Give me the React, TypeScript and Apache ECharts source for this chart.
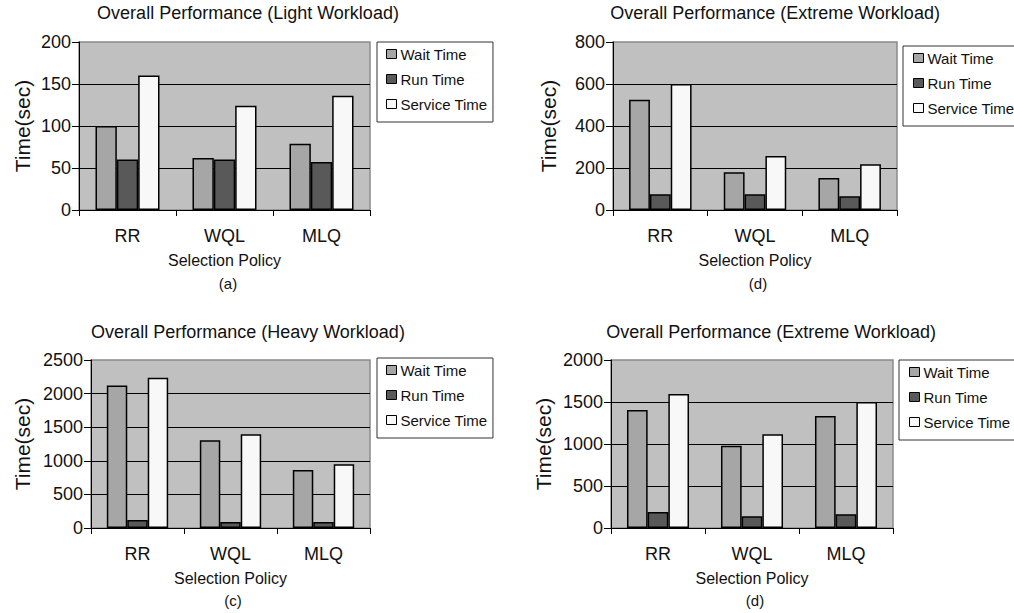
import React, { useEffect, useRef } from "react";
import * as echarts from "echarts";

// Selection policies on the x axis
const CATEGORIES = ["RR", "WQL", "MLQ"];
const SERIES_NAMES = ["Wait Time", "Run Time", "Service Time"];

// (a) Light workload, seconds
const LIGHT_WAIT = [100, 62, 79];
const LIGHT_RUN = [60, 60, 57];
const LIGHT_SERVICE = [160, 124, 136];

// (d) Extreme workload, first run, seconds
const EXTREME1_WAIT = [525, 180, 152];
const EXTREME1_RUN = [75, 75, 65];
const EXTREME1_SERVICE = [600, 257, 218];

// (c) Heavy workload, seconds
const HEAVY_WAIT = [2120, 1305, 863];
const HEAVY_RUN = [120, 90, 90];
const HEAVY_SERVICE = [2235, 1395, 948];

// (d) Extreme workload, second run, seconds
const EXTREME2_WAIT = [1405, 978, 1333];
const EXTREME2_RUN = [190, 140, 165];
const EXTREME2_SERVICE = [1595, 1115, 1500];

const FONT = '"Liberation Sans", Arial, Helvetica, sans-serif';
const INK = "#111";
const BAR_COLORS = ["#a6a6a6", "#595959", "#f8f8f8"];

type Panel = {
  title: string;
  caption: string;
  titlePos: [number, number];
  captionPos: [number, number];
  grid: { left: number; top: number; width: number; height: number };
  max: number;
  interval: number;
  yNameGap: number;
  legend: { left: number; top: number; padding: number[] };
  values: number[][];
};

const PANELS: Panel[] = [
  {
    title: "Overall Performance (Light Workload)",
    caption: "(a)",
    titlePos: [248, 13],
    captionPos: [228, 283],
    grid: { left: 79, top: 42, width: 291, height: 168 },
    max: 200,
    interval: 50,
    yNameGap: 46,
    legend: { left: 377, top: 42, padding: [4.5, 5.5, 10.5, 9] },
    values: [LIGHT_WAIT, LIGHT_RUN, LIGHT_SERVICE],
  },
  {
    title: "Overall Performance (Extreme Workload)",
    caption: "(d)",
    titlePos: [775, 13],
    captionPos: [758, 283],
    grid: { left: 613, top: 42, width: 284, height: 168 },
    max: 800,
    interval: 200,
    yNameGap: 54,
    legend: { left: 903, top: 46, padding: [4.5, 20, 10.5, 10] },
    values: [EXTREME1_WAIT, EXTREME1_RUN, EXTREME1_SERVICE],
  },
  {
    title: "Overall Performance (Heavy Workload)",
    caption: "(c)",
    titlePos: [248, 332],
    captionPos: [233, 600],
    grid: { left: 91, top: 360, width: 279, height: 168 },
    max: 2500,
    interval: 500,
    yNameGap: 58,
    legend: { left: 377, top: 358, padding: [4.5, 5.5, 10.5, 9] },
    values: [HEAVY_WAIT, HEAVY_RUN, HEAVY_SERVICE],
  },
  {
    title: "Overall Performance (Extreme Workload)",
    caption: "(d)",
    titlePos: [771, 332],
    captionPos: [755, 600],
    grid: { left: 611, top: 360, width: 282, height: 168 },
    max: 2000,
    interval: 500,
    yNameGap: 57,
    legend: { left: 899, top: 360, padding: [4.5, 20, 10.5, 10] },
    values: [EXTREME2_WAIT, EXTREME2_RUN, EXTREME2_SERVICE],
  },
];

function buildOption(): echarts.EChartsOption {
  const grid = PANELS.map((p) => ({
    ...p.grid,
    show: true,
    backgroundColor: "#c0c0c0",
    borderColor: "#8a8a8a",
    borderWidth: 1.5,
    containLabel: false,
  }));

  const xAxis = PANELS.map((_, i) => ({
    type: "category" as const,
    gridIndex: i,
    data: CATEGORIES,
    name: "Selection Policy",
    nameLocation: "middle" as const,
    nameGap: 42,
    nameTextStyle: { fontFamily: FONT, fontSize: 16, color: INK },
    axisLine: { show: true, lineStyle: { color: "#000", width: 1 } },
    axisTick: { show: true, length: 6, lineStyle: { color: "#000" } },
    axisLabel: { fontFamily: FONT, fontSize: 18, color: INK, margin: 17 },
    splitLine: { show: false },
  }));

  const yAxis = PANELS.map((p, i) => ({
    type: "value" as const,
    gridIndex: i,
    min: 0,
    max: p.max,
    interval: p.interval,
    name: "Time(sec)",
    nameLocation: "middle" as const,
    nameRotate: 90,
    nameGap: p.yNameGap,
    nameTextStyle: { fontFamily: FONT, fontSize: 21, color: INK },
    axisLine: { show: true, lineStyle: { color: "#000", width: 1 } },
    axisTick: { show: true, length: 7, lineStyle: { color: "#000" } },
    axisLabel: {
      fontFamily: FONT,
      fontSize: 18,
      color: INK,
      margin: 8,
      formatter: (v: number) => String(v),
    },
    splitLine: {
      show: true,
      showMaxLine: false,
      lineStyle: { color: "#000", width: 1 },
    },
  }));

  const series: any[] = [];
  PANELS.forEach((p, i) => {
    p.values.forEach((vals, k) => {
      series.push({
        type: "bar",
        name: SERIES_NAMES[k],
        xAxisIndex: i,
        yAxisIndex: i,
        data: vals,
        barGap: "0%",
        barCategoryGap: "34%",
        itemStyle: {
          color: BAR_COLORS[k],
          borderColor: "#000",
          borderWidth: 1.5,
        },
      });
    });
  });

  const legend = PANELS.map((p) => ({
    data: SERIES_NAMES,
    orient: "vertical" as const,
    left: p.legend.left,
    top: p.legend.top,
    padding: p.legend.padding,
    itemGap: 10,
    itemWidth: 10,
    itemHeight: 9,
    icon: "rect",
    backgroundColor: "#fff",
    borderColor: "#333",
    borderWidth: 1,
    itemStyle: { borderColor: "#000", borderWidth: 1 },
    textStyle: { fontFamily: FONT, fontSize: 15, color: INK, padding: [0, 0, 0, -1] },
    selectedMode: false,
  }));

  const graphic: any[] = [];
  PANELS.forEach((p) => {
    graphic.push({
      type: "text",
      x: p.titlePos[0],
      y: p.titlePos[1],
      style: {
        text: p.title,
        fontFamily: FONT,
        fontSize: 18,
        fill: INK,
        align: "center",
        verticalAlign: "middle",
      },
    });
    graphic.push({
      type: "text",
      x: p.captionPos[0],
      y: p.captionPos[1],
      style: {
        text: p.caption,
        fontFamily: FONT,
        fontSize: 15,
        fill: INK,
        align: "center",
        verticalAlign: "middle",
      },
    });
  });

  return {
    animation: false,
    backgroundColor: "#fff",
    grid,
    xAxis,
    yAxis,
    legend,
    series,
    graphic,
  } as echarts.EChartsOption;
}

export default function App() {
  const ref = useRef<HTMLDivElement>(null);

  useEffect(() => {
    if (!ref.current) return;
    const chart = echarts.init(ref.current, undefined, { renderer: "svg" });
    chart.setOption(buildOption());
    return () => chart.dispose();
  }, []);

  return (
    <div
      ref={ref}
      style={{ position: "fixed", left: 0, top: 0, width: 1014, height: 613 }}
    />
  );
}
